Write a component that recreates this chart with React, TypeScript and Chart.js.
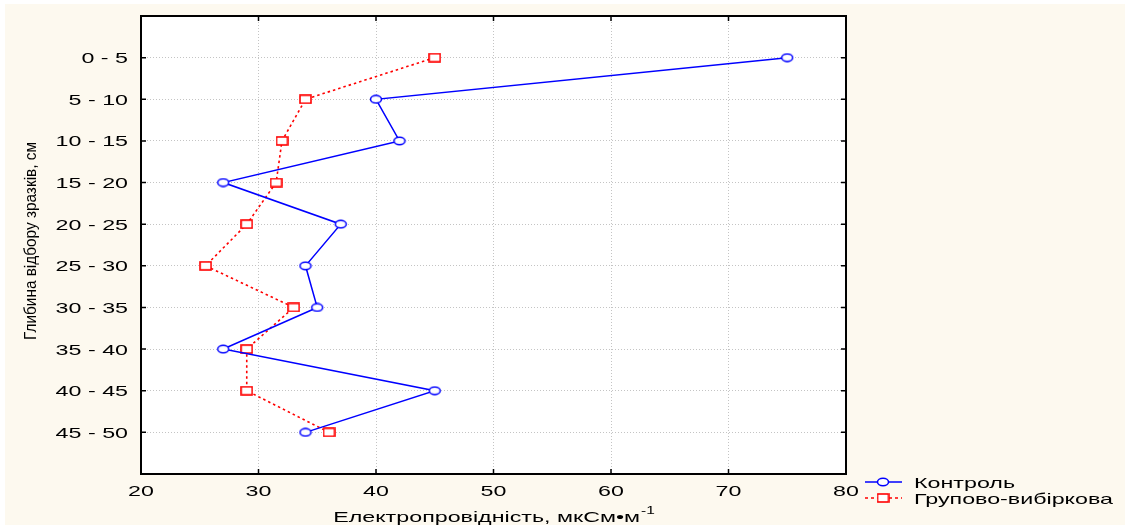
import { useEffect, useRef } from "react";
import { Chart, registerables } from "chart.js";

Chart.register(...registerables);

const depthLabels = ["0 - 5", "5 - 10", "10 - 15", "15 - 20", "20 - 25", "25 - 30", "30 - 35", "35 - 40", "40 - 45", "45 - 50"];
const controlValues = [75, 40, 42, 27, 37, 34, 35, 27, 45, 34];
const groupValues = [45, 34, 32, 31.5, 29, 25.5, 33, 29, 29, 36];
const xTickValues = [20, 30, 40, 50, 60, 70, 80];
const seriesNames = ["Контроль", "Групово-вибіркова"];
const xTitle = "Електропровідність, мкСм•м";
const xTitleSup = "-1";
const yTitle = "Глибина відбору зразків, см";

const FONT = '"Liberation Sans", Arial, sans-serif';
const SX = 1.55;
const BLUE = "#0000ff";
const RED = "#ff0000";

function makeCircle(): HTMLCanvasElement {
  const c = document.createElement("canvas");
  c.width = 14;
  c.height = 10;
  const g = c.getContext("2d")!;
  g.beginPath();
  g.ellipse(7, 5, 5.5, 3.8, 0, 0, Math.PI * 2);
  g.fillStyle = "#ffffff";
  g.fill();
  g.lineWidth = 1.5;
  g.strokeStyle = BLUE;
  g.stroke();
  return c;
}

function makeSquare(): HTMLCanvasElement {
  const c = document.createElement("canvas");
  c.width = 13;
  c.height = 10;
  const g = c.getContext("2d")!;
  g.fillStyle = "#ffffff";
  g.fillRect(1, 1, 11, 8);
  g.lineWidth = 1.6;
  g.strokeStyle = RED;
  g.strokeRect(1, 1, 11, 8);
  return c;
}

function stretchedText(ctx: CanvasRenderingContext2D, text: string, x: number, y: number, align: string, size: number) {
  ctx.save();
  ctx.font = `${size}px ${FONT}`;
  const w = ctx.measureText(text).width * SX;
  const x0 = align === "left" ? x : align === "right" ? x - w : x - w / 2;
  ctx.translate(x0, y);
  ctx.scale(SX, 1);
  ctx.textAlign = "left";
  ctx.textBaseline = "alphabetic";
  ctx.fillStyle = "#000000";
  ctx.fillText(text, 0, 0);
  ctx.restore();
  return w;
}

export default function App() {
  const ref = useRef<HTMLCanvasElement | null>(null);

  useEffect(() => {
    const canvas = ref.current;
    if (!canvas) return;
    const circle = makeCircle();
    const square = makeSquare();

    const decor = {
      id: "decor",
      beforeDraw(chart: any) {
        const ctx = chart.ctx as CanvasRenderingContext2D;
        const a = chart.chartArea;
        ctx.save();
        ctx.fillStyle = "#ffffff";
        ctx.fillRect(0, 0, chart.width, chart.height);
        ctx.fillStyle = "#fdf9ef";
        ctx.fillRect(5, 4, chart.width - 5, chart.height - 5);
        ctx.fillStyle = "#ffffff";
        ctx.fillRect(a.left, a.top, a.right - a.left, a.bottom - a.top);
        ctx.restore();
      },
      afterDraw(chart: any) {
        const ctx = chart.ctx as CanvasRenderingContext2D;
        const a = chart.chartArea;
        const xs = chart.scales.x;
        const ys = chart.scales.y;
        ctx.save();
        // frame
        ctx.strokeStyle = "#000000";
        ctx.lineWidth = 2;
        ctx.strokeRect(a.left, a.top, a.right - a.left, a.bottom - a.top);
        // inward ticks
        ctx.lineWidth = 1.5;
        ctx.beginPath();
        for (const v of xTickValues) {
          const px = xs.getPixelForValue(v);
          ctx.moveTo(px, a.bottom);
          ctx.lineTo(px, a.bottom - 5);
          ctx.moveTo(px, a.top);
          ctx.lineTo(px, a.top + 5);
        }
        depthLabels.forEach((_, i) => {
          const py = ys.getPixelForValue(i);
          ctx.moveTo(a.left, py);
          ctx.lineTo(a.left + 5, py);
          ctx.moveTo(a.right, py);
          ctx.lineTo(a.right - 5, py);
        });
        ctx.stroke();
        // tick labels
        depthLabels.forEach((lab, i) => {
          const py = ys.getPixelForValue(i);
          stretchedText(ctx, lab, a.left - 13, py + 5.5, "right", 15);
        });
        for (const v of xTickValues) {
          const px = xs.getPixelForValue(v);
          stretchedText(ctx, String(v), px, a.bottom + 22, "center", 15);
        }
        // x title with superscript
        ctx.font = `15px ${FONT}`;
        const mainW = ctx.measureText(xTitle).width * SX;
        ctx.font = `10px ${FONT}`;
        const supW = ctx.measureText(xTitleSup).width * SX;
        const cx = (a.left + a.right) / 2;
        const startX = cx - (mainW + supW) / 2;
        stretchedText(ctx, xTitle, startX, 522, "left", 15);
        stretchedText(ctx, xTitleSup, startX + mainW + 1, 514, "left", 10);
        // y title (rotated, fitted along)
        ctx.save();
        ctx.font = `11px ${FONT}`;
        const tw = ctx.measureText(yTitle).width;
        const along = 198 / tw;
        ctx.translate(31, (a.top + a.bottom) / 2 - 4);
        ctx.rotate(-Math.PI / 2);
        ctx.scale(along, SX);
        ctx.textAlign = "center";
        ctx.textBaseline = "middle";
        ctx.fillStyle = "#000000";
        ctx.fillText(yTitle, 0, 0);
        ctx.restore();
        // legend
        const rows = [
          { y: 482, color: BLUE, dash: [] as number[], img: circle, name: seriesNames[0] },
          { y: 498, color: RED, dash: [3, 3], img: square, name: seriesNames[1] },
        ];
        for (const r of rows) {
          ctx.save();
          ctx.strokeStyle = r.color;
          ctx.lineWidth = 1.5;
          ctx.setLineDash(r.dash);
          ctx.beginPath();
          ctx.moveTo(865, r.y);
          ctx.lineTo(902, r.y);
          ctx.stroke();
          ctx.restore();
          ctx.drawImage(r.img, 883 - r.img.width / 2, r.y - r.img.height / 2);
          stretchedText(ctx, r.name, 914, r.y + 5.5, "left", 15);
        }
        ctx.restore();
      },
    };

    const chart = new Chart(canvas, {
      type: "line",
      data: {
        datasets: [
          {
            label: seriesNames[0],
            data: controlValues.map((v, i) => ({ x: v, y: i })),
            borderColor: BLUE,
            borderWidth: 1.5,
            pointStyle: circle as any,
            pointRadius: 5,
            tension: 0,
          },
          {
            label: seriesNames[1],
            data: groupValues.map((v, i) => ({ x: v, y: i })),
            borderColor: RED,
            borderWidth: 1.6,
            borderDash: [2.5, 3],
            pointStyle: square as any,
            pointRadius: 5,
            tension: 0,
          },
        ],
      },
      options: {
        animation: false,
        responsive: false,
        devicePixelRatio: 1,
        layout: { padding: { top: 16, right: 279, left: 0, bottom: 0 } },
        plugins: { legend: { display: false }, tooltip: { enabled: false } },
        scales: {
          x: {
            type: "linear",
            min: 20,
            max: 80,
            afterBuildTicks: (s: any) => {
              s.ticks = xTickValues.map((v) => ({ value: v }));
            },
            afterFit: (s: any) => {
              s.height = 52;
            },
            ticks: { display: false },
            grid: { color: "#c4c4c4", lineWidth: 1, drawTicks: false },
            border: { display: false, dash: [1, 2] },
          },
          y: {
            type: "linear",
            min: -1,
            max: 10,
            reverse: true,
            afterBuildTicks: (s: any) => {
              s.ticks = depthLabels.map((_, i) => ({ value: i }));
            },
            afterFit: (s: any) => {
              s.width = 141;
            },
            ticks: { display: false },
            grid: { color: "#c4c4c4", lineWidth: 1, drawTicks: false },
            border: { display: false, dash: [1, 2] },
          },
        },
      },
      plugins: [decor],
    } as any);

    return () => chart.destroy();
  }, []);

  return (
    <div style={{ position: "fixed", left: 0, top: 0, width: 1125, height: 526 }}>
      <canvas ref={ref} width={1125} height={526} style={{ display: "block", width: 1125, height: 526 }} />
    </div>
  );
}
